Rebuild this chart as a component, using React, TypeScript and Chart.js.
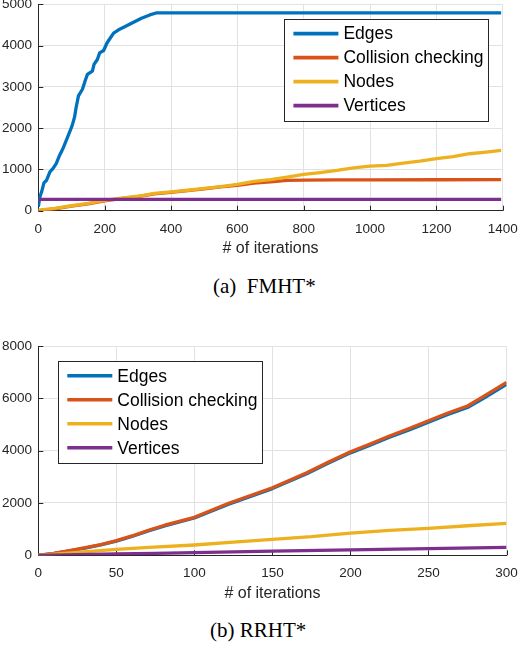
import React, { useEffect, useRef } from "react";
import { Chart, registerables } from "chart.js";

Chart.register(...registerables);

// ---------- shared ----------
const seriesLabels = ["Edges", "Collision checking", "Nodes", "Vertices"];
const seriesColors = ["#0072BD", "#D95319", "#EDB120", "#7E2F8E"];
const xAxisTitle = "# of iterations";

// ---------- (a) FMHT* ----------
const fmhtCaption = "(a)\u00a0 FMHT*";
const fmhtXTicks = [0, 200, 400, 600, 800, 1000, 1200, 1400];
const fmhtYTicks = [0, 1000, 2000, 3000, 4000, 5000];
const fmhtEdgesX = [0, 5, 10, 17, 25, 35, 44, 54, 64, 74, 84, 94, 102, 109, 114, 121, 133, 141, 148, 163, 168, 178, 185, 197, 207, 217, 227, 242, 262, 281, 311, 336, 355, 1395];
const fmhtEdgesY = [96, 337, 457, 673, 738, 938, 1018, 1139, 1339, 1500, 1700, 1899, 2060, 2260, 2500, 2781, 2942, 3142, 3302, 3382, 3543, 3663, 3823, 3880, 4062, 4183, 4303, 4383, 4463, 4543, 4663, 4743, 4790, 4790];
const fmhtCollX = [0, 50, 100, 150, 200, 250, 300, 350, 400, 450, 500, 550, 600, 650, 700, 750, 800, 900, 1000, 1200, 1395];
const fmhtCollY = [0, 45, 110, 165, 240, 295, 340, 410, 445, 485, 530, 575, 615, 670, 700, 735, 740, 745, 748, 750, 752];
const fmhtNodesX = [0, 50, 100, 150, 200, 250, 300, 350, 400, 450, 500, 550, 600, 650, 700, 750, 800, 850, 900, 950, 1000, 1050, 1100, 1150, 1200, 1250, 1300, 1350, 1395];
const fmhtNodesY = [15, 55, 120, 175, 250, 305, 350, 420, 455, 495, 540, 585, 635, 710, 755, 815, 880, 925, 975, 1040, 1080, 1100, 1150, 1200, 1260, 1310, 1380, 1420, 1460];
const fmhtVertX = [0, 1395];
const fmhtVertY = [275, 275];

// ---------- (b) RRHT* ----------
const rrhtCaption = "(b) RRHT*";
const rrhtXTicks = [0, 50, 100, 150, 200, 250, 300];
const rrhtYTicks = [0, 2000, 4000, 6000, 8000];
const rrhtEdgeCollX = [0, 10, 20, 30, 40, 50, 60, 71, 81, 100, 122, 150, 172, 185, 200, 211, 225, 238, 250, 262, 275, 285, 300];
const rrhtEdgesY = [0, 70, 170, 275, 395, 540, 720, 945, 1125, 1425, 1955, 2550, 3120, 3500, 3915, 4170, 4510, 4800, 5090, 5370, 5650, 5990, 6530];
const rrhtCollY = [0, 76, 180, 290, 410, 560, 740, 967, 1150, 1452, 1988, 2584, 3158, 3540, 3960, 4216, 4560, 4854, 5145, 5428, 5707, 6063, 6613];
const rrhtNodesX = [0, 25, 50, 71, 100, 125, 150, 175, 200, 225, 250, 275, 300];
const rrhtNodesY = [0, 110, 225, 306, 394, 500, 611, 710, 850, 950, 1032, 1130, 1223];
const rrhtVertX = [0, 25, 50, 75, 100, 150, 200, 250, 300];
const rrhtVertY = [0, 25, 50, 75, 100, 160, 205, 255, 305];

// ---------- style ----------
const SANS = '"Liberation Sans", Arial, Helvetica, sans-serif';
const SERIF = '"Liberation Serif", "Times New Roman", Times, serif';
const AXIS_COLOR = "#262626";
const GRID_COLOR = "#e2e2e2";

function toPoints(xs: number[], ys: number[]) {
  return xs.map((x, i) => ({ x, y: ys[i] }));
}

const inwardTicks = {
  id: "inwardTicks",
  beforeDatasetsDraw(chart: any) {
    const { ctx, chartArea, scales } = chart;
    const len = 5;
    ctx.save();
    ctx.strokeStyle = AXIS_COLOR;
    ctx.lineWidth = 1;
    ctx.beginPath();
    scales.x.ticks.forEach((t: any) => {
      const px = Math.round(scales.x.getPixelForValue(t.value)) + 0.5;
      ctx.moveTo(px, chartArea.bottom);
      ctx.lineTo(px, chartArea.bottom - len);
    });
    scales.y.ticks.forEach((t: any) => {
      const py = Math.round(scales.y.getPixelForValue(t.value)) + 0.5;
      ctx.moveTo(chartArea.left, py);
      ctx.lineTo(chartArea.left + len, py);
    });
    ctx.stroke();
    ctx.restore();
  },
};

const matlabLegend = {
  id: "matlabLegend",
  afterDraw(chart: any, _args: any, opts: any) {
    const { ctx, chartArea } = chart;
    const ds = chart.data.datasets;
    ctx.save();
    ctx.font = `${opts.fontSize}px ${SANS}`;
    const textW = Math.max(...ds.map((d: any) => ctx.measureText(d.label).width));
    const w = opts.padLeft + opts.lineLen + opts.gap + textW + opts.padRight;
    const h = opts.padTop * 2 + opts.rowH * ds.length;
    const x = opts.corner === "ne" ? chartArea.right - opts.offsetX - w : chartArea.left + opts.offsetX;
    const y = chartArea.top + opts.offsetY;
    ctx.fillStyle = "#ffffff";
    ctx.fillRect(x, y, w, h);
    ctx.strokeStyle = AXIS_COLOR;
    ctx.lineWidth = 1;
    ctx.strokeRect(Math.round(x) + 0.5, Math.round(y) + 0.5, Math.round(w), Math.round(h));
    ds.forEach((d: any, i: number) => {
      const cy = y + opts.padTop + opts.rowH * (i + 0.5);
      ctx.strokeStyle = d.borderColor;
      ctx.lineWidth = opts.lineWidth;
      ctx.beginPath();
      ctx.moveTo(x + opts.padLeft, cy);
      ctx.lineTo(x + opts.padLeft + opts.lineLen, cy);
      ctx.stroke();
      ctx.fillStyle = "#000000";
      ctx.textAlign = "left";
      ctx.textBaseline = "middle";
      ctx.fillText(d.label, x + opts.padLeft + opts.lineLen + opts.gap, cy + 1);
    });
    ctx.restore();
  },
};

type PlotProps = {
  top: number;
  height: number;
  padTop: number;
  xAxisHeight: number;
  titlePadBottom: number;
  xMax: number;
  yMax: number;
  xTicks: number[];
  yTicks: number[];
  series: { x: number[]; y: number[] }[];
  legendCorner: "ne" | "nw";
  legendOffsetX: number;
  legendOffsetY: number;
};

function MatlabPlot(p: PlotProps) {
  const ref = useRef<HTMLCanvasElement | null>(null);
  useEffect(() => {
    if (!ref.current) return;
    const datasets = p.series.map((s, i) => ({
      label: seriesLabels[i],
      data: toPoints(s.x, s.y),
      borderColor: seriesColors[i],
      backgroundColor: seriesColors[i],
      borderWidth: 3.3,
      pointRadius: 0,
      tension: 0,
      fill: false,
      borderJoinStyle: "round" as const,
      order: p.series.length - i,
    }));
    const chart = new Chart(ref.current, {
      type: "line",
      data: { datasets },
      options: {
        animation: false,
        responsive: false,
        devicePixelRatio: window.devicePixelRatio || 1,
        layout: { padding: { top: p.padTop, right: 16.7, bottom: 0, left: 0 } },
        plugins: {
          legend: { display: false },
          tooltip: { enabled: false },
          // @ts-ignore
          matlabLegend: {
            corner: p.legendCorner,
            offsetX: p.legendOffsetX,
            offsetY: p.legendOffsetY,
            fontSize: 17.5,
            rowH: 24,
            padTop: 3,
            padLeft: 9,
            lineLen: 45,
            gap: 5,
            padRight: 5,
            lineWidth: 3.6,
          },
        },
        scales: {
          x: {
            type: "linear",
            min: 0,
            max: p.xMax,
            afterBuildTicks: (s: any) => {
              s.ticks = p.xTicks.map((v) => ({ value: v }));
            },
            afterFit: (s: any) => {
              s.height = p.xAxisHeight;
            },
            grid: { color: GRID_COLOR, lineWidth: 1, drawTicks: false },
            border: { display: true, color: AXIS_COLOR, width: 1 },
            ticks: {
              color: AXIS_COLOR,
              font: { family: SANS, size: 13.5 },
              padding: 10.2,
              maxRotation: 0,
              autoSkip: false,
              callback: (v: any) => String(v),
            },
            title: {
              display: true,
              text: xAxisTitle,
              color: AXIS_COLOR,
              font: { family: SANS, size: 16 },
              padding: { top: 0, bottom: p.titlePadBottom },
            },
          },
          y: {
            type: "linear",
            min: 0,
            max: p.yMax,
            afterBuildTicks: (s: any) => {
              s.ticks = p.yTicks.map((v) => ({ value: v }));
            },
            afterFit: (s: any) => {
              s.width = 38.3;
            },
            grid: { color: GRID_COLOR, lineWidth: 1, drawTicks: false },
            border: { display: true, color: AXIS_COLOR, width: 1 },
            ticks: {
              color: AXIS_COLOR,
              font: { family: SANS, size: 13.5 },
              padding: 6.2,
              autoSkip: false,
              callback: (v: any) => String(v),
            },
          },
        },
      },
      plugins: [inwardTicks, matlabLegend],
    } as any);
    return () => chart.destroy();
  }, []);
  return (
    <canvas
      ref={ref}
      width={528}
      height={p.height}
      style={{ position: "absolute", left: 0, top: p.top, width: 528, height: p.height, display: "block" }}
    />
  );
}

export default function App() {
  return (
    <div
      style={{
        position: "absolute",
        left: 0,
        top: 0,
        width: 528,
        height: 672,
        overflow: "hidden",
        background: "#ffffff",
      }}
    >
      <MatlabPlot
        top={-10}
        height={270}
        padTop={12.7}
        xAxisHeight={49.3}
        titlePadBottom={1.8}
        xMax={1400}
        yMax={5000}
        xTicks={fmhtXTicks}
        yTicks={fmhtYTicks}
        series={[
          { x: fmhtEdgesX, y: fmhtEdgesY },
          { x: fmhtCollX, y: fmhtCollY },
          { x: fmhtNodesX, y: fmhtNodesY },
          { x: fmhtVertX, y: fmhtVertY },
        ]}
        legendCorner="ne"
        legendOffsetX={14.3}
        legendOffsetY={14.3}
      />
      <div
        style={{
          position: "absolute",
          left: 213,
          top: 274,
          fontFamily: SERIF,
          fontSize: 21,
          lineHeight: "24px",
          color: "#000",
          whiteSpace: "pre",
        }}
      >
        {fmhtCaption}
      </div>
      <MatlabPlot
        top={320}
        height={290}
        padTop={26}
        xAxisHeight={54.7}
        titlePadBottom={7.2}
        xMax={300}
        yMax={8000}
        xTicks={rrhtXTicks}
        yTicks={rrhtYTicks}
        series={[
          { x: rrhtEdgeCollX, y: rrhtEdgesY },
          { x: rrhtEdgeCollX, y: rrhtCollY },
          { x: rrhtNodesX, y: rrhtNodesY },
          { x: rrhtVertX, y: rrhtVertY },
        ]}
        legendCorner="nw"
        legendOffsetX={20}
        legendOffsetY={14.7}
      />
      <div
        style={{
          position: "absolute",
          left: 210,
          top: 618,
          fontFamily: SERIF,
          fontSize: 21,
          lineHeight: "24px",
          color: "#000",
          whiteSpace: "pre",
        }}
      >
        {rrhtCaption}
      </div>
    </div>
  );
}
